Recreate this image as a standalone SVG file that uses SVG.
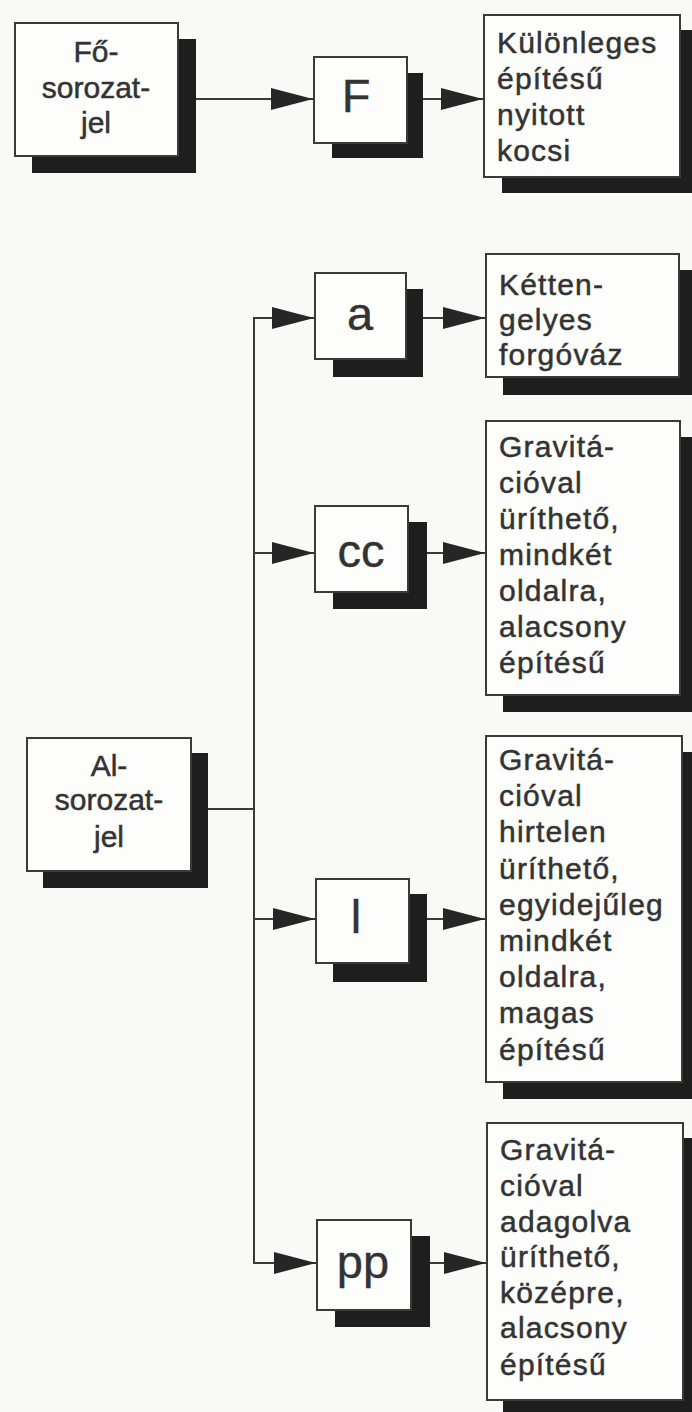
<svg xmlns="http://www.w3.org/2000/svg" width="692" height="1412" viewBox="0 0 692 1412">
<defs>
<style>
.bg{fill:#f9f9f7}
.box{fill:#fdfdfb;stroke:#3a3a3a;stroke-width:2}
.sh{fill:#1e1e1e}
.ln{stroke:#3a3a3a;stroke-width:2;fill:none}
.t{font-family:"Liberation Sans",Arial,sans-serif;font-size:30px;fill:#333;stroke:#333;stroke-width:0.5;letter-spacing:1.2px}
.c{text-anchor:middle;letter-spacing:0}
.big{font-family:"Liberation Sans",Arial,sans-serif;font-size:47px;fill:#333;stroke:#333;stroke-width:0.4;text-anchor:middle}
</style>
<marker id="ah" markerUnits="userSpaceOnUse" markerWidth="44" markerHeight="24" refX="42" refY="11" orient="auto">
<path d="M0,0 L42,11 L0,22 Z" fill="#262626"/>
</marker>
</defs>
<rect class="bg" x="0" y="0" width="692" height="1412"/>

<g id="connectors">
<line class="ln" x1="196" y1="99" x2="313" y2="99" marker-end="url(#ah)"/>
<line class="ln" x1="423" y1="99" x2="483" y2="99" marker-end="url(#ah)"/>
<line class="ln" x1="208" y1="809" x2="254" y2="809"/>
<line class="ln" x1="254" y1="318" x2="254" y2="1263"/>
<line class="ln" x1="253" y1="318" x2="314" y2="318" marker-end="url(#ah)"/>
<line class="ln" x1="423" y1="318" x2="485" y2="318" marker-end="url(#ah)"/>
<line class="ln" x1="253" y1="553" x2="314" y2="553" marker-end="url(#ah)"/>
<line class="ln" x1="427" y1="553" x2="485" y2="553" marker-end="url(#ah)"/>
<line class="ln" x1="253" y1="919" x2="315" y2="919" marker-end="url(#ah)"/>
<line class="ln" x1="427" y1="919" x2="485" y2="919" marker-end="url(#ah)"/>
<line class="ln" x1="253" y1="1263" x2="316" y2="1263" marker-end="url(#ah)"/>
<line class="ln" x1="430" y1="1263" x2="486" y2="1263" marker-end="url(#ah)"/>
</g>

<g id="fosorozatjel">
<rect class="sh" x="32" y="39" width="164" height="134"/>
<rect class="box" x="15" y="23" width="163" height="133"/>
<text class="t c" x="96" y="62">Fő-</text>
<text class="t c" x="96" y="98">sorozat-</text>
<text class="t c" x="96" y="133">jel</text>
</g>

<g id="F">
<rect class="sh" x="332" y="73" width="91" height="85"/>
<rect class="box" x="314" y="57" width="93" height="86"/>
<text class="big" x="356" y="112">F</text>
</g>

<g id="kulonleges">
<rect class="sh" x="502" y="30" width="200" height="163"/>
<rect class="box" x="484" y="15" width="196" height="162"/>
<text class="t" x="497" y="53">Különleges</text>
<text class="t" x="497" y="89">építésű</text>
<text class="t" x="497" y="125">nyitott</text>
<text class="t" x="497" y="161">kocsi</text>
</g>

<g id="a">
<rect class="sh" x="333" y="289" width="90" height="88"/>
<rect class="box" x="315" y="273" width="91" height="86"/>
<text class="big" x="360" y="330">a</text>
</g>

<g id="kettengelyes">
<rect class="sh" x="503" y="270" width="200" height="125"/>
<rect class="box" x="486" y="254" width="193" height="123"/>
<text class="t" x="499" y="295">Kétten-</text>
<text class="t" x="499" y="330">gelyes</text>
<text class="t" x="499" y="365">forgóváz</text>
</g>

<g id="cc">
<rect class="sh" x="333" y="522" width="94" height="87"/>
<rect class="box" x="315" y="506" width="93" height="86"/>
<text class="big" x="361" y="567">cc</text>
</g>

<g id="cc-leiras">
<rect class="sh" x="503" y="437" width="200" height="275"/>
<rect class="box" x="486" y="421" width="194" height="274"/>
<text class="t" x="499" y="457">Gravitá-</text>
<text class="t" x="499" y="493">cióval</text>
<text class="t" x="499" y="529">üríthető,</text>
<text class="t" x="499" y="565">mindkét</text>
<text class="t" x="499" y="601">oldalra,</text>
<text class="t" x="499" y="637">alacsony</text>
<text class="t" x="499" y="673">építésű</text>
</g>

<g id="alsorozatjel">
<rect class="sh" x="43" y="753" width="165" height="135"/>
<rect class="box" x="27" y="738" width="164" height="133"/>
<text class="t c" x="109" y="776">Al-</text>
<text class="t c" x="109" y="810">sorozat-</text>
<text class="t c" x="109" y="847">jel</text>
</g>

<g id="l">
<rect class="sh" x="333" y="894" width="94" height="88"/>
<rect class="box" x="316" y="879" width="93" height="84"/>
<text class="big" x="356" y="933">l</text>
</g>

<g id="l-leiras">
<rect class="sh" x="503" y="752" width="200" height="347"/>
<rect class="box" x="486" y="736" width="196" height="346"/>
<text class="t" x="499" y="770">Gravitá-</text>
<text class="t" x="499" y="806">cióval</text>
<text class="t" x="499" y="842">hirtelen</text>
<text class="t" x="499" y="879">üríthető,</text>
<text class="t" x="499" y="915">egyidejűleg</text>
<text class="t" x="499" y="951">mindkét</text>
<text class="t" x="499" y="987">oldalra,</text>
<text class="t" x="499" y="1023">magas</text>
<text class="t" x="499" y="1060">építésű</text>
</g>

<g id="pp">
<rect class="sh" x="335" y="1236" width="95" height="91"/>
<rect class="box" x="317" y="1220" width="94" height="90"/>
<text class="big" x="363" y="1278">pp</text>
</g>

<g id="pp-leiras">
<rect class="sh" x="503" y="1138" width="200" height="290"/>
<rect class="box" x="487" y="1123" width="196" height="277"/>
<text class="t" x="500" y="1160">Gravitá-</text>
<text class="t" x="500" y="1196">cióval</text>
<text class="t" x="500" y="1232">adagolva</text>
<text class="t" x="500" y="1267">üríthető,</text>
<text class="t" x="500" y="1303">középre,</text>
<text class="t" x="500" y="1338">alacsony</text>
<text class="t" x="500" y="1375">építésű</text>
</g>
</svg>
